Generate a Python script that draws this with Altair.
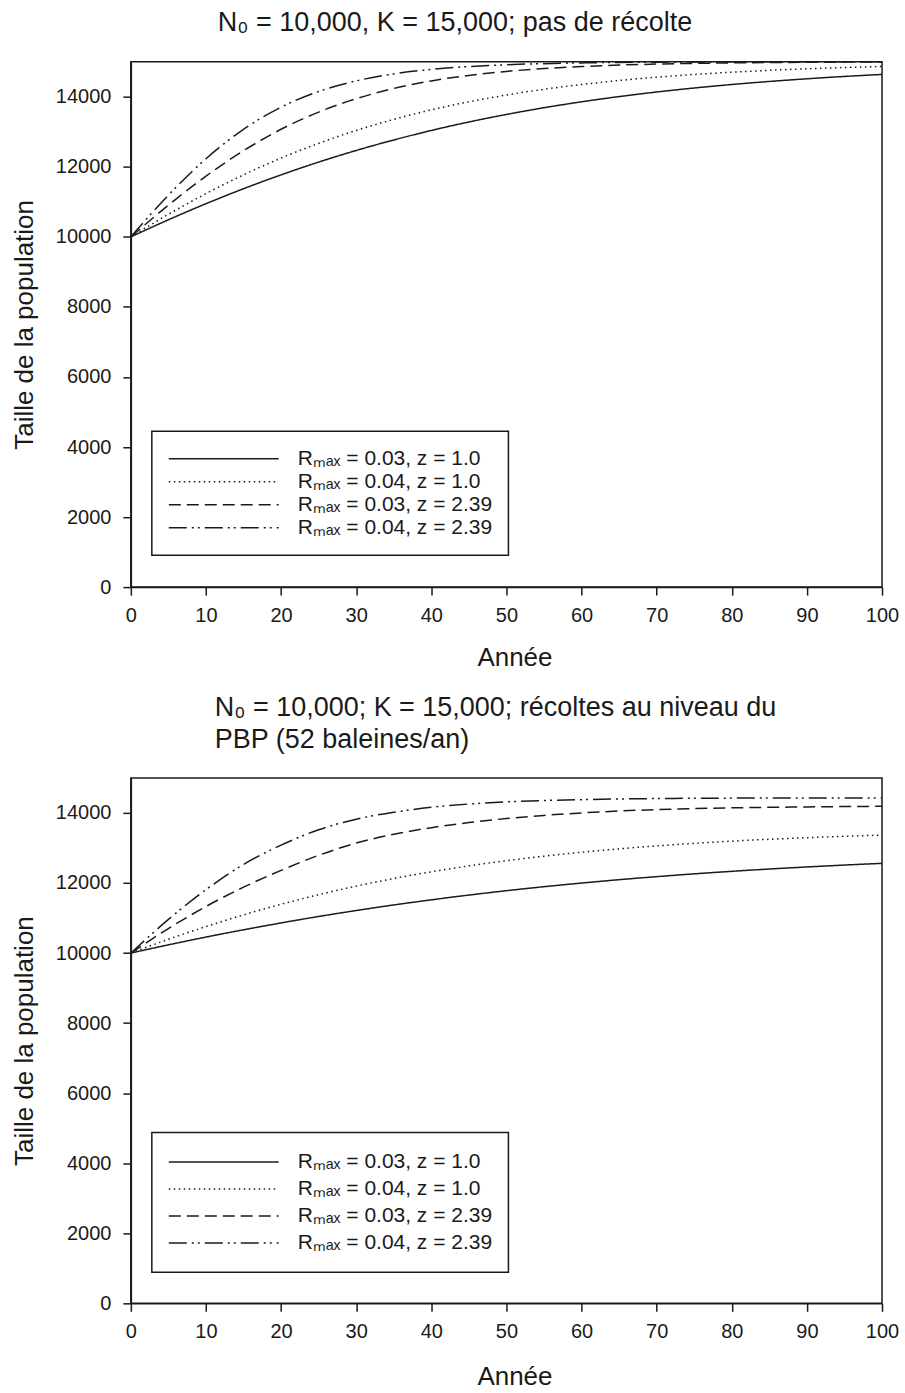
import altair as alt
import pandas as pd

years = list(range(0, 101, 5))

series_labels = [
    "Rₘₐₓ = 0.03, z = 1.0",
    "Rₘₐₓ = 0.04, z = 1.0",
    "Rₘₐₓ = 0.03, z = 2.39",
    "Rₘₐₓ = 0.04, z = 2.39",
]

# Panel 1: no harvest
top_r03_z1 = [10000, 10487, 10946, 11374, 11770, 12134, 12466, 12766, 13037, 13279, 13494,
              13686, 13855, 14004, 14135, 14249, 14349, 14436, 14512, 14579, 14636]
top_r04_z1 = [10000, 10643, 11234, 11770, 12248, 12670, 13037, 13354, 13625, 13855, 14049,
              14213, 14349, 14463, 14558, 14636, 14700, 14754, 14798, 14834, 14864]
top_r03_z239 = [10000, 10904, 11734, 12459, 13071, 13562, 13944, 14236, 14452, 14609, 14723,
                14804, 14862, 14903, 14932, 14952, 14966, 14976, 14983, 14988, 14992]
top_r04_z239 = [10000, 11190, 12230, 13071, 13701, 14149, 14452, 14652, 14779, 14862, 14914,
                14945, 14966, 14979, 14987, 14992, 14995, 14997, 14998, 14999, 14999]

# Panel 2: harvest at MSY (52 whales/yr)
bot_r03_z1 = [10000, 10234, 10456, 10664, 10860, 11044, 11214, 11373, 11519, 11655, 11780,
              11894, 11998, 12094, 12181, 12261, 12333, 12399, 12458, 12512, 12561]
bot_r04_z1 = [10000, 10393, 10756, 11090, 11393, 11666, 11911, 12128, 12320, 12489, 12637,
              12766, 12878, 12975, 13059, 13132, 13194, 13248, 13293, 13333, 13367]
bot_r03_z239 = [10000, 10700, 11330, 11880, 12360, 12790, 13140, 13390, 13580, 13725, 13840,
                13930, 14000, 14055, 14095, 14125, 14145, 14160, 14172, 14182, 14190]
bot_r04_z239 = [10000, 10960, 11810, 12530, 13080, 13520, 13820, 14020, 14160, 14255, 14315,
                14355, 14380, 14398, 14410, 14418, 14423, 14426, 14428, 14429, 14430]

x_ticks = list(range(0, 101, 10))
y_ticks = list(range(0, 15001, 2000))

title_top = "N₀ = 10,000, K = 15,000; pas de récolte"
title_bottom = ["N₀ = 10,000; K = 15,000; récoltes au niveau du", "PBP (52 baleines/an)"]

dash_range = [[1, 0], [1.5, 3.5], [12, 6], [18, 5, 2, 4, 2, 5]]

FONT = "Liberation Sans"
INK = "#1a1a1a"


def long_df(series_values):
    rows = []
    for label, vals in zip(series_labels, series_values):
        for yr, v in zip(years, vals):
            rows.append({"year": yr, "N": v, "series": label})
    return pd.DataFrame(rows)


def panel(series_values, title, legend_y, clip_h, x_title_pad):
    df = long_df(series_values)
    return alt.Chart(df, title=title).mark_line(
        color=INK, strokeWidth=1.5, interpolate="monotone"
    ).encode(
        x=alt.X("year:Q", scale=alt.Scale(domain=[0, 100], nice=False),
                axis=alt.Axis(values=x_ticks, title="Année", format="d",
                              labelFlush=False, titleX=384, titlePadding=x_title_pad)),
        y=alt.Y("N:Q", scale=alt.Scale(domain=[0, 15000], nice=False),
                axis=alt.Axis(values=y_ticks, title="Taille de la population", format="d")),
        strokeDash=alt.StrokeDash(
            "series:N",
            scale=alt.Scale(domain=series_labels, range=dash_range),
            legend=alt.Legend(
                title=None, orient="none", legendX=21, legendY=legend_y,
                symbolType="stroke", symbolSize=12100, symbolStrokeWidth=1.5,
                symbolStrokeColor=INK, clipHeight=clip_h, rowPadding=0,
                labelOffset=18, labelFontSize=21, labelFont=FONT, labelColor=INK,
                labelLimit=400, padding=16, strokeColor=INK, fillColor="white",
            ),
        ),
    ).properties(width=752, height=526)


top = panel([top_r03_z1, top_r04_z1, top_r03_z239, top_r04_z239],
            alt.TitleParams(text=title_top, anchor="middle", frame="bounds",
                            fontSize=27, font=FONT, fontWeight="normal", color=INK, offset=22),
            370, 23, 19)
bottom = panel([bot_r03_z1, bot_r04_z1, bot_r03_z239, bot_r04_z239],
               alt.TitleParams(text=title_bottom, anchor="start", frame="group", dx=84,
                               fontSize=27, font=FONT, fontWeight="normal", color=INK,
                               lineHeight=32, offset=24),
               355, 27, 22)

chart = alt.vconcat(top, bottom, spacing=22).resolve_scale(
    strokeDash="independent"
).resolve_legend(strokeDash="independent").properties(
    padding={"left": 10, "top": 7, "right": 5, "bottom": 0}
).configure_view(
    stroke=INK, strokeWidth=1.5
).configure_axis(
    grid=False, domainColor=INK, domainWidth=1.5, tickColor=INK, tickWidth=1.5, tickSize=8,
    labelFont=FONT, labelFontSize=20, labelColor=INK,
    titleFont=FONT, titleFontSize=26, titleFontWeight="normal", titleColor=INK,
).configure_axisX(
    labelPadding=10
).configure_axisY(
    labelPadding=12, titlePadding=18
).configure_legend(
    strokeWidth=1.5
)

chart.save("out.html", embed_options={"renderer": "svg", "actions": False})
